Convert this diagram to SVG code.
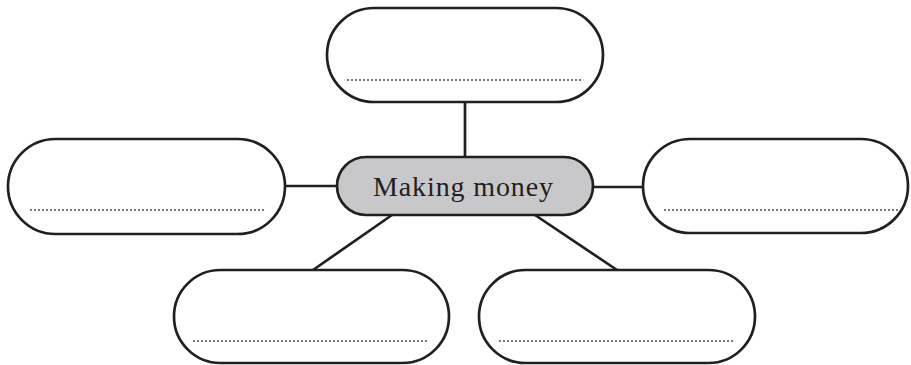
<svg xmlns="http://www.w3.org/2000/svg" width="911" height="365" viewBox="0 0 911 365">
<style>
.box{fill:#fff;stroke:#231f20;stroke-width:2.7}
.center{fill:#c8c8ca;stroke:#231f20;stroke-width:2.7}
.dots{stroke:#7a7a7a;stroke-width:2;stroke-dasharray:2 2;fill:none}
.conn{stroke:#231f20;stroke-width:2.7;fill:none}
.label{font-family:"Liberation Serif","Times New Roman",serif;font-size:28px;fill:#231f20}
</style>
<rect width="911" height="365" fill="#fff"/>
<g id="connectors">
<line class="conn" x1="465" y1="102" x2="465" y2="157"/>
<line class="conn" x1="285" y1="186" x2="337" y2="186"/>
<line class="conn" x1="593" y1="187" x2="643" y2="187"/>
<line class="conn" x1="392" y1="215" x2="313" y2="270"/>
<line class="conn" x1="535" y1="215" x2="617" y2="270"/>
</g>
<g id="top">
<rect class="box" x="327" y="8" width="276" height="94" rx="47"/>
<line class="dots" x1="347" y1="80" x2="582" y2="80"/>
</g>
<g id="left">
<rect class="box" x="8" y="139" width="277" height="95" rx="47.5"/>
<line class="dots" x1="30" y1="210" x2="264" y2="210"/>
</g>
<g id="right">
<rect class="box" x="643" y="139" width="265" height="94" rx="47"/>
<line class="dots" x1="664" y1="210" x2="898" y2="210"/>
</g>
<g id="bottom-left">
<rect class="box" x="174" y="270" width="275" height="93" rx="46.5"/>
<line class="dots" x1="193" y1="341" x2="428" y2="341"/>
</g>
<g id="bottom-right">
<rect class="box" x="479" y="270" width="276" height="93" rx="46.5"/>
<line class="dots" x1="499" y1="341" x2="734" y2="341"/>
</g>
<g id="center">
<rect class="center" x="337" y="157" width="256" height="58" rx="29"/>
<text class="label" x="463" y="196" text-anchor="middle" textLength="180" lengthAdjust="spacing">Making money</text>
</g>
</svg>
